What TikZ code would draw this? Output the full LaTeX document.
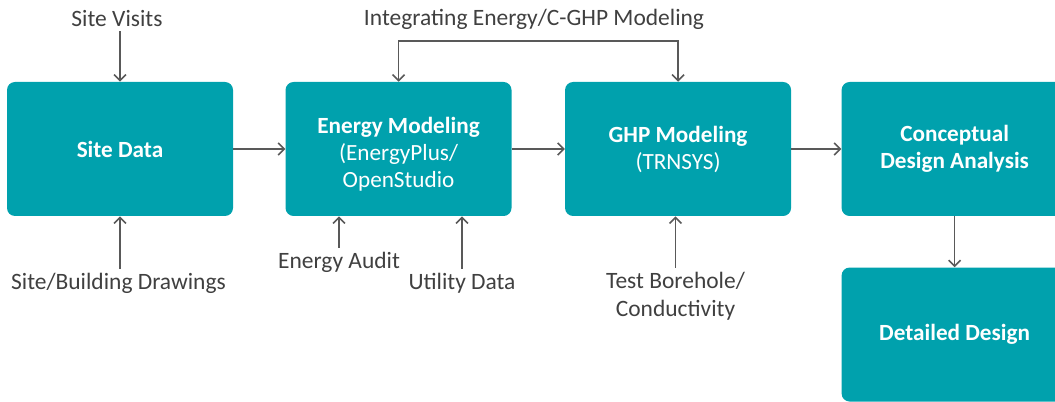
\documentclass[tikz,border=0pt]{standalone}
\usepackage{fontspec}
\setmainfont{Carlito}
\usetikzlibrary{
  arrows.meta,
  positioning
}
\definecolor{gtTeal}{HTML}{00A1AD}
\definecolor{gtLine}{HTML}{595959}
\definecolor{gtText}{HTML}{404040}
\tikzset{
  >={Straight Barb[length=4.5pt, width=9pt]},
  gtbox/.style={
    fill=gtTeal, rounded corners=6pt, minimum width=169.5pt, minimum height=100.5pt,
    text=white, font=\fontsize{17.4}{20.25}\selectfont, align=center, inner sep=0pt
  },
  gtlabel/.style={text=gtText, font=\fontsize{17.6}{21}\selectfont, align=center, inner sep=3pt},
  flow/.style={->, line width=1.2pt, gtLine},
  feedback/.style={<->, line width=1.2pt, gtLine}
}

\begin{document}
\begin{tikzpicture}[x=0.75pt, y=-0.75pt, node distance=39pt]
  \clip (0,0) rectangle (1055,402);
  % process boxes
  \node[gtbox] (sitedata) at (120,149) {\bfseries Site Data};
  \node[gtbox, right=of sitedata] (energy) {\rule{0pt}{20pt}{\bfseries Energy Modeling}\\(EnergyPlus/\\OpenStudio};
  \node[gtbox, right=39.75pt of energy] (ghp) {{\bfseries GHP Modeling}\\(TRNSYS)};
  \node[gtbox, right=37.5pt of ghp] (concept) {\bfseries Conceptual\\\bfseries Design Analysis};
  \node[gtbox, below=38.25pt of concept] (detailed) {\bfseries Detailed Design};

  % inputs
  \node[gtlabel] (visits) at (117,19) {Site Visits};
  \node[gtlabel] (drawings) at (118.5,283) {Site/Building Drawings};
  \node[gtlabel] (integ) at (534,19) {Integrating Energy/C-GHP Modeling};
  \node[gtlabel] (audit) at (339,262) {Energy Audit};
  \node[gtlabel] (utility) at (462,283) {Utility Data};
  \node[gtlabel] (borehole) at (675.5,296) {Test Borehole/\\Conductivity};

  \draw[flow] (sitedata.north |- visits.south) -- (sitedata.north);
  \draw[flow] (sitedata.south |- drawings.north) -- (sitedata.south);
  \draw[flow] (audit.north) -- (audit.north |- energy.south);
  \draw[flow] (utility.north) -- (utility.north |- energy.south);
  \draw[flow] (borehole.north) -- (borehole.north |- ghp.south);
  \draw[feedback] (energy.north) -- ++(0,-41) -| (ghp.north);

  \draw[flow] (sitedata) -- (energy);
  \draw[flow] (energy) -- (ghp);
  \draw[flow] (ghp) -- (concept);
  \draw[flow] (concept) -- (detailed);
\end{tikzpicture}
\end{document}
